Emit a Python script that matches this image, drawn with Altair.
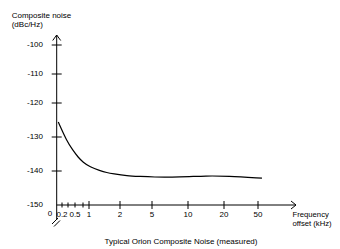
import altair as alt
import pandas as pd

# ---- data ----
freq_khz = [0.06, 0.28, 0.44, 0.58, 0.7, 1.03, 1.35, 1.58, 1.77, 2.66, 3.88, 5.03, 8.9, 15.3, 22.6, 53.5]
noise_dbc = [-125.6, -131.2, -133.9, -136.0, -137.4, -138.8, -139.9, -140.5, -140.8,
             -141.4, -141.6, -141.8, -141.8, -141.4, -141.5, -142.1]

y_tick_vals = [-100, -110, -120, -130, -140]
y_label_vals = [-100, -110, -120, -130, -140, -150]
y_label_text = ["-100", "-110", "-120", "-130", "-140", "-150"]

x_major_vals = [1, 2, 5, 10, 20, 50]
x_minor_vals = [0.2, 0.3, 0.5, 0.7]
x_label_vals = [0.2, 0.5, 1, 2, 5, 10, 20, 50]
x_label_text = ["0.2", "0.5", "1", "2", "5", "10", "20", "50"]

# hand-drawn (non-uniform) axes -> piecewise linear scales
x_scale = alt.Scale(domain=[0, 0.2, 0.3, 0.5, 0.7, 1, 2, 5, 10, 20, 50],
                    range=[48.7, 54, 60, 67, 75, 81, 112, 144, 180, 216, 250],
                    zero=False, nice=False)
y_scale = alt.Scale(domain=[-150, -140, -130, -120, -110, -100],
                    range=[197, 163, 129, 95, 66, 37],
                    zero=False, nice=False)

FONT = "Liberation Sans"
one = pd.DataFrame({"k": [0]})

curve = alt.Chart(pd.DataFrame({"f": freq_khz, "n": noise_dbc})).mark_line(
    color="black", strokeWidth=1.2, interpolate="basis"
).encode(
    x=alt.X("f:Q", scale=x_scale, axis=None),
    y=alt.Y("n:Q", scale=y_scale, axis=None),
)

def seg(x1, y1, x2, y2):
    return alt.Chart(one).mark_rule(color="black", strokeWidth=1).encode(
        x=alt.value(x1), y=alt.value(y1), x2=alt.value(x2), y2=alt.value(y2)
    )

axes = [
    seg(48.7, 27, 48.7, 212),      # y axis
    seg(48.7, 197, 288, 197),      # x axis
    seg(44.7, 32.5, 48.7, 27),     # y arrow
    seg(52.7, 32.5, 48.7, 27),
    seg(283, 193, 288, 197),       # x arrow
    seg(283, 201, 288, 197),
    seg(44, 216, 50, 210),         # axis break //
    seg(46, 218.5, 52, 212.5),
]

y_ticks = alt.Chart(pd.DataFrame({"v": y_tick_vals})).mark_rule(color="black", strokeWidth=1).encode(
    y=alt.Y("v:Q", scale=y_scale, axis=None), x=alt.value(43.7), x2=alt.value(53.7)
)
x_major = alt.Chart(pd.DataFrame({"v": x_major_vals})).mark_rule(color="black", strokeWidth=1).encode(
    x=alt.X("v:Q", scale=x_scale, axis=None), y=alt.value(193), y2=alt.value(201)
)
x_minor = alt.Chart(pd.DataFrame({"v": x_minor_vals})).mark_rule(color="black", strokeWidth=1).encode(
    x=alt.X("v:Q", scale=x_scale, axis=None), y=alt.value(194.5), y2=alt.value(199.5)
)

y_labels = alt.Chart(pd.DataFrame({"v": y_label_vals, "t": y_label_text})).mark_text(
    font=FONT, fontSize=8, align="right", baseline="middle", color="black"
).encode(
    y=alt.Y("v:Q", scale=y_scale, axis=None), x=alt.value(35), text="t:N"
)
x_labels = alt.Chart(pd.DataFrame({"v": x_label_vals, "t": x_label_text})).mark_text(
    font=FONT, fontSize=8, align="center", baseline="middle", color="black"
).encode(
    x=alt.X("v:Q", scale=x_scale, axis=None), y=alt.value(207), text="t:N"
)
zero_label = alt.Chart(one).mark_text(
    font=FONT, fontSize=8, align="center", baseline="middle", color="black", text="0", dx=-6.7
).encode(x=alt.datum(0, scale=x_scale, axis=None), y=alt.value(206))

def label(txt, x, y, align="left", size=8):
    return alt.Chart(one).mark_text(
        font=FONT, fontSize=size, align=align, baseline="middle", color="black", text=txt
    ).encode(x=alt.value(x), y=alt.value(y))

texts = [
    label("Composite noise", 3.7, 7.7),
    label("(dBc/Hz)", 3.7, 17),
    label("Frequency", 284.5, 207, size=7.7),
    label("offset (kHz)", 284.5, 215.5, size=7.7),
    label("Typical Orion Composite Noise (measured)", 173, 234, align="center"),
]

chart = alt.layer(
    *axes, y_ticks, x_major, x_minor, curve, y_labels, x_labels, zero_label, *texts
).properties(
    width=324, height=241,
    autosize=alt.AutoSizeParams(type="none"),
    padding=0,
).configure_view(stroke=None)

chart.save("out.html", embed_options={"renderer": "svg", "actions": False})
